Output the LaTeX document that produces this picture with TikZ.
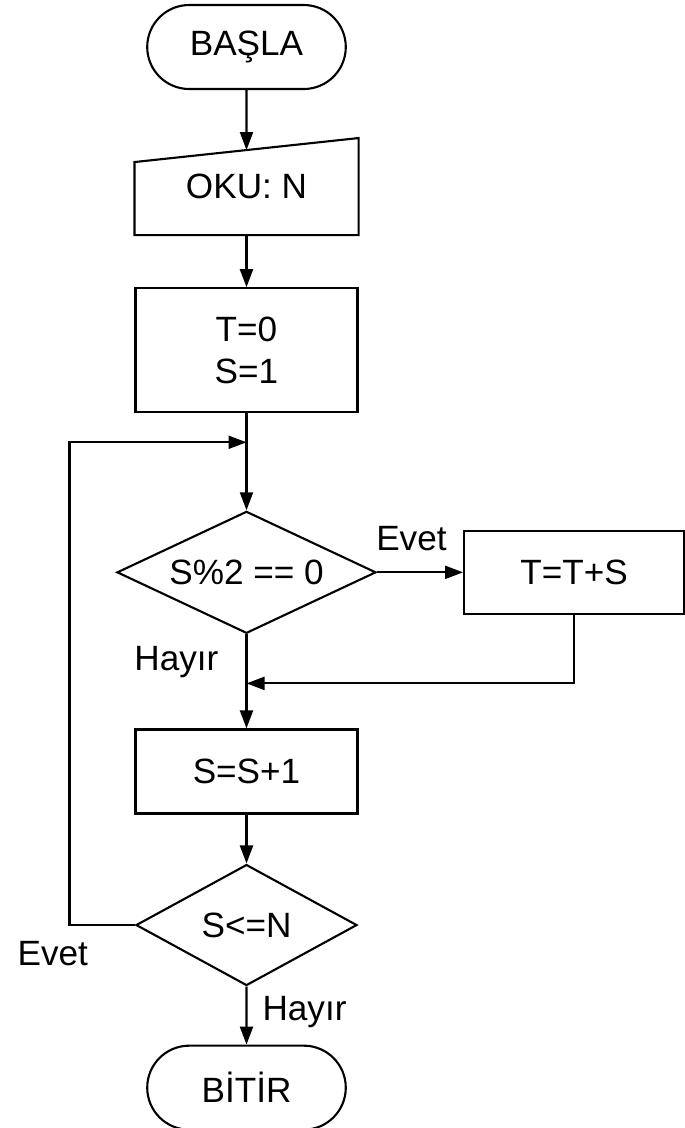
\documentclass[tikz,border=0pt]{standalone}
\usepackage{fontspec}
\setmainfont{Liberation Sans}
\usetikzlibrary{positioning, shapes.geometric, shapes.misc, arrows.meta}

\begin{document}
\begin{tikzpicture}[
    ->,
    >={Triangle[length=1.8mm, width=1.3mm]},
    line width=0.6pt,
    term/.style={rounded rectangle, draw, minimum width=2.22cm, minimum height=0.84cm, font=\normalsize},
    box/.style={rectangle, draw, minimum width=2.22cm, font=\normalsize, align=center},
    cond/.style={diamond, draw, aspect=2, inner sep=0pt, font=\normalsize},
    lbl/.style={inner sep=0pt, font=\normalsize}
  ]
  \useasboundingbox (0,0) rectangle (6.85,-11.28);

  % 节点
  \node[term] (start) at (2.465,-0.47) {BAŞLA};
  \node[box, draw=none, minimum height=0.95cm] (read) [below=0.48cm of start] {OKU: N};
  \node[box, minimum height=1.24cm] (init) [below=0.52cm of read] {T=0\\S=1};
  \node[cond, minimum width=2.59cm, minimum height=1.22cm] (cond1) [below=0.97cm of init] {S\%2 == 0};
  \node[box, minimum width=2.20cm, minimum height=0.83cm] (add) [right=0.86cm of cond1] {T=T+S};
  \node[box, minimum height=0.84cm] (inc) [below=0.94cm of cond1] {S=S+1};
  \node[cond, minimum width=2.21cm, minimum height=1.21cm] (cond2) [below=0.49cm of inc] {S<=N};
  \node[term] (stop) [below=0.58cm of cond2] {BİTİR};

  % 输入框的斜边
  \draw[-] (read.south west) -- (read.south east) -- (read.north east)
        -- ([yshift=-0.24cm]read.north west) -- cycle;

  % 辅助点
  \coordinate[below=0.29cm of init] (back);
  \coordinate[left=1.77cm of back] (loop);
  \coordinate[below=0.49cm of cond1] (merge);

  % 箭头
  \draw (start) -- ([yshift=-0.12cm]read.north);
  \draw (read) -- (init);
  \draw (init) -- (cond1);
  \draw (cond1) -- (add) node[lbl, pos=0.4, above=0.2cm] (yes1) {Evet};
  \draw (add.south) |- (merge);
  \draw (cond1) -- (inc);
  \draw (inc) -- (cond2);
  \draw (cond2) -- (stop);
  \draw (cond2.west) -| (loop) -- (back);

  % 分支标签
  \node[lbl, below left=0.11cm and 0.27cm of cond1.south] (no1) {Hayır};
  \node[lbl, below left=0.15cm and 0.46cm of cond2.west] (yes2) {Evet};
  \node[lbl, below right=0.09cm and 0.15cm of cond2.south] (no2) {Hayır};

\end{tikzpicture}
\end{document}
